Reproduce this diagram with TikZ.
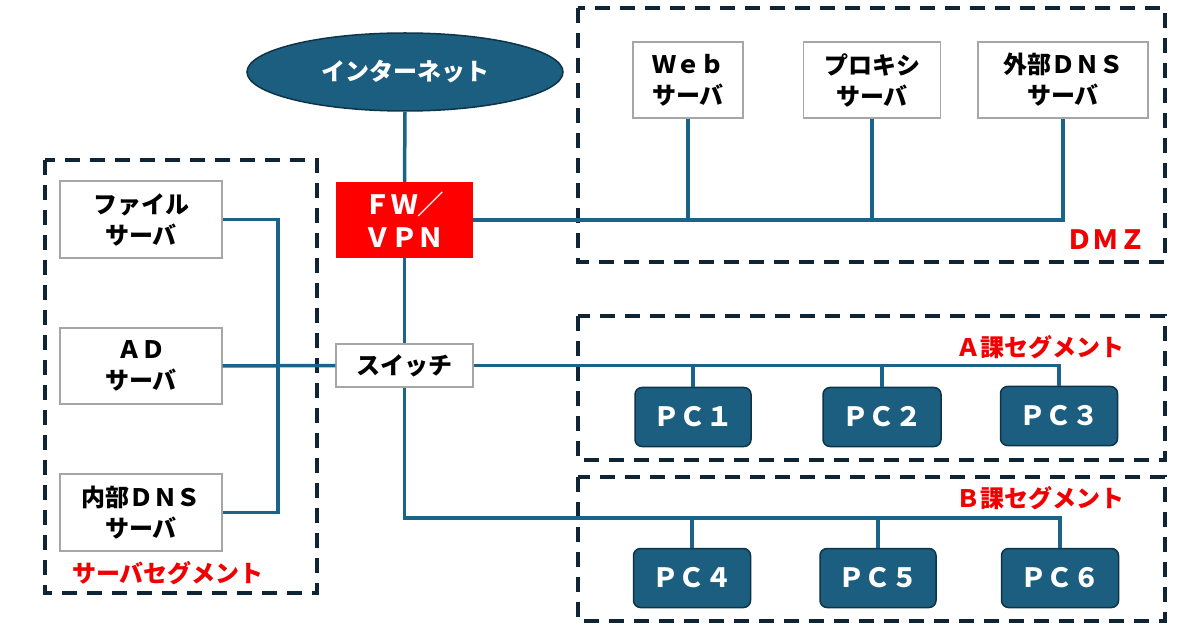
\documentclass[tikz,border=0pt]{standalone}
\usepackage{fontspec}
\setmainfont{Noto Sans CJK JP}[BoldFont={Noto Sans CJK JP Black}]
\usetikzlibrary{shapes.geometric}
\definecolor{net}{HTML}{1C6389}
\definecolor{pcfill}{HTML}{1B5E80}
\definecolor{pcedge}{HTML}{0E3448}
\definecolor{dash}{HTML}{0F2535}
\definecolor{lbl}{HTML}{F00000}
\tikzset{
  jp/.style={font=\bfseries\fontsize{24}{31}\selectfont},
  big/.style={font=\bfseries\fontsize{26.5}{33}\selectfont},
  srv/.style={jp, draw=gray!70, line width=1.2pt, fill=white, align=center, inner sep=0pt},
  pcbox/.style={big, draw=pcedge, line width=1.5pt, fill=pcfill, text=white, rounded corners=7pt, inner sep=0pt, minimum height=59pt},
  link/.style={draw=net, line width=3.5pt},
  zone/.style={draw=dash, line width=3.5pt, dash pattern=on 15pt off 10pt},
  zonelbl/.style={jp, text=lbl},
}
\begin{document}
\begin{tikzpicture}[x=1pt,y=-1pt]
\useasboundingbox (0,0) rectangle (1200,628);
\fill[white] (0,0) rectangle (1200,628);
% zones
\draw[zone] (45,160) rectangle (317,593);
\draw[zone] (578,8) rectangle (1165,262);
\draw[zone] (578,316) rectangle (1165,460);
\draw[zone] (578,477) rectangle (1165,621);
% nodes
\node[ellipse, draw=pcedge, line width=1.5pt, fill=pcfill, text=white, jp, minimum width=316pt, minimum height=78pt, inner sep=0pt] (inet) at (405,72) {インターネット};
\node[big, fill=red, text=white, align=center, minimum width=137pt, minimum height=76pt, inner sep=0pt] (fw) at (404.5,220) {ＦＷ／\\ＶＰＮ};
\node[srv, minimum width=137pt, minimum height=43pt] (sw) at (404.5,365.5) {スイッチ};
\node[srv, minimum width=162pt, minimum height=77pt] (file) at (141,219.5) {ファイル\\サーバ};
\node[srv, minimum width=162pt, minimum height=76pt] (ad) at (141,366) {ＡＤ\\サーバ};
\node[srv, minimum width=162pt, minimum height=77pt] (dns) at (141,512.5) {内部ＤＮＳ\\サーバ};
\node[srv, minimum width=110pt, minimum height=76pt] (web) at (688,80) {Ｗｅｂ\\サーバ};
\node[srv, minimum width=137pt, minimum height=76pt] (proxy) at (872,80) {プロキシ\\サーバ};
\node[srv, minimum width=170pt, minimum height=76pt] (ext) at (1063,80) {外部ＤＮＳ\\サーバ};
\node[pcbox, minimum width=116pt] (pc1) at (693,417) {ＰＣ１};
\node[pcbox, minimum width=118pt] (pc2) at (882,417) {ＰＣ２};
\node[pcbox, minimum width=117pt] (pc3) at (1059,416) {ＰＣ３};
\node[pcbox, minimum width=117pt] (pc4) at (692,578) {ＰＣ４};
\node[pcbox, minimum width=116pt] (pc5) at (878,578) {ＰＣ５};
\node[pcbox, minimum width=117pt] (pc6) at (1060,578) {ＰＣ６};
% labels
\node[big, text=lbl] (lsrv) at (168,573) {\fontsize{24}{30}\selectfont サーバセグメント};
\node[big, text=lbl] (ldmz) at (1106,240) {ＤＭＺ};
\node[zonelbl] (la) at (1040,347) {Ａ課セグメント};
\node[zonelbl] (lb) at (1040,498) {Ｂ課セグメント};
% connectors
\coordinate (srvbus) at (278,0);
\coordinate (bbus) at (0,518);
\draw[link] (inet.south) -- (fw.north);
\draw[link] (fw.south) -- (sw.north);
\draw[link] (fw.east) -- (ext.south |- fw.east) -- (ext.south);
\draw[link] (web.south) -- (web.south |- fw.east);
\draw[link] (proxy.south) -- (proxy.south |- fw.east);
\draw[link] (ad.east) -- (sw.west);
\draw[link] (file.east) -- (srvbus |- file.east) -- (srvbus |- dns.east) -- (dns.east);
\draw[link] (sw.east) -- (pc3.north |- sw.east) -- (pc3.north);
\draw[link] (pc1.north) -- (pc1.north |- sw.east);
\draw[link] (pc2.north) -- (pc2.north |- sw.east);
\draw[link] (sw.south) -- (sw.south |- bbus) -- (pc6.north |- bbus) -- (pc6.north);
\draw[link] (pc4.north) -- (pc4.north |- bbus);
\draw[link] (pc5.north) -- (pc5.north |- bbus);
\end{tikzpicture}
\end{document}
